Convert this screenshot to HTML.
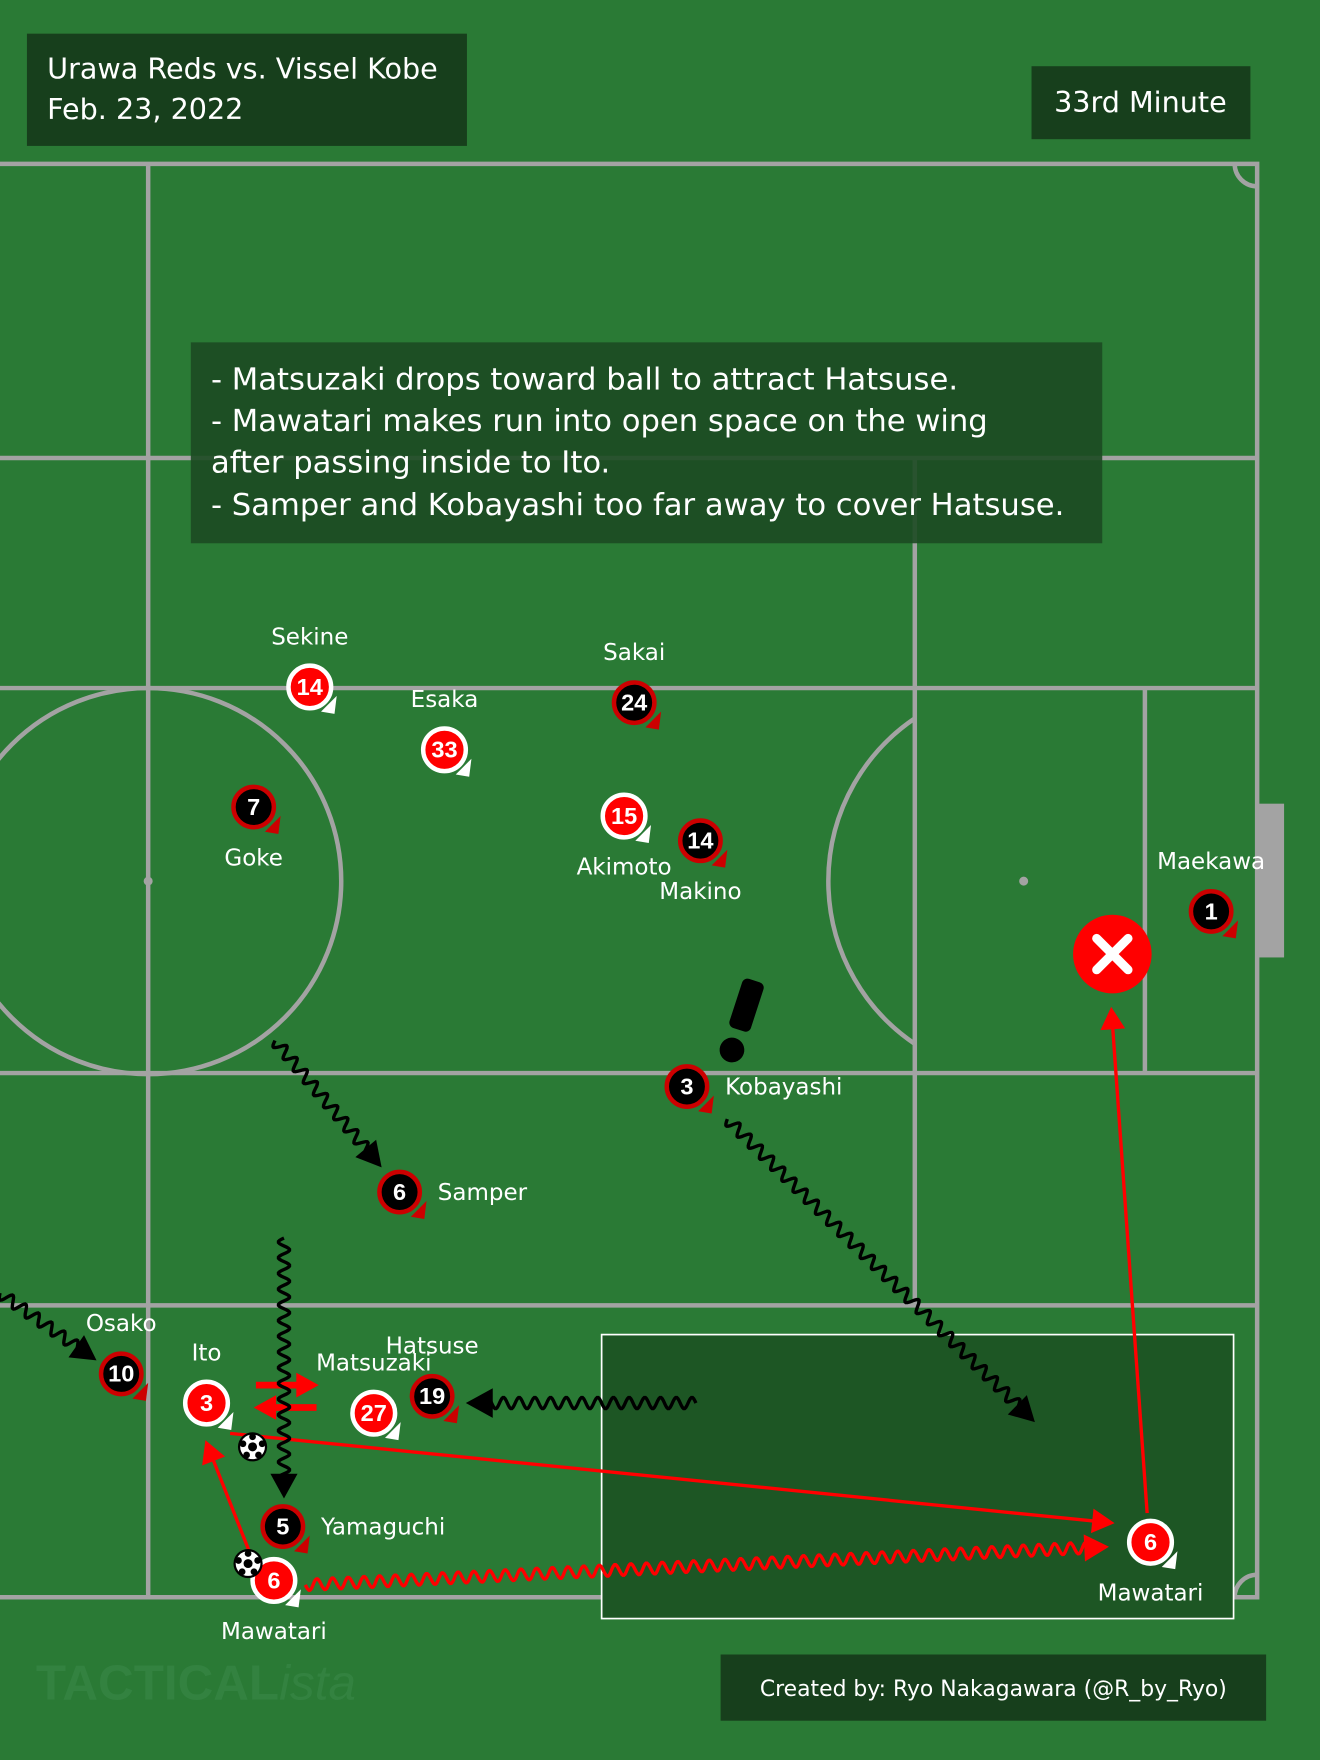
<!DOCTYPE html>
<html><head><meta charset="utf-8"><style>
html,body{margin:0;padding:0;background:#2a7a35;}
svg{display:block;font-family:"DejaVu Sans","Liberation Sans",sans-serif;}
.lbl{fill:#fff;font-size:20.5px;}
.num{fill:#fff;font-family:"Liberation Sans Narrow","Liberation Sans",sans-serif;font-weight:bold;font-size:21px;}
</style></head><body>
<svg id="s" width="1320" height="1760" viewBox="0 0 1176 1568" xmlns="http://www.w3.org/2000/svg">
<rect x="0" y="0" width="1176" height="1568" fill="#2a7a35"/>
<g stroke="#a3a3a3" stroke-width="4" fill="none">
<rect x="-10" y="146" width="1130" height="1277"/>
<line x1="132" y1="146" x2="132" y2="1423"/>
<line x1="0" y1="408" x2="1120" y2="408"/>
<line x1="0" y1="613" x2="1120" y2="613"/>
<line x1="0" y1="956" x2="1120" y2="956"/>
<line x1="0" y1="1163" x2="1120" y2="1163"/>
<line x1="815" y1="408" x2="815" y2="1163"/>
<line x1="1020" y1="613" x2="1020" y2="956"/>
<circle cx="132" cy="785" r="172"/>
<path d="M815 640 A175 175 0 0 0 815 930"/>
<path d="M1100 146 A20 20 0 0 0 1120 166"/>
<path d="M1120 1403 A20 20 0 0 0 1100 1423"/>
</g>
<circle cx="132" cy="785" r="4" fill="#a3a3a3"/>
<circle cx="912" cy="785" r="4" fill="#a3a3a3"/>
<rect x="1120" y="716" width="24" height="137" fill="#a3a3a3"/>
<rect x="24" y="30" width="392" height="100" fill="#173f1c"/>
<text class="lbl" x="42" y="70" style="font-size:25.5px">Urawa Reds vs. Vissel Kobe</text>
<text class="lbl" x="42" y="106" style="font-size:25.5px">Feb. 23, 2022</text>
<rect x="919" y="59" width="195" height="65" fill="#173f1c"/>
<text class="lbl" x="1016" y="100" text-anchor="middle" style="font-size:25.5px">33rd Minute</text>
<rect x="170" y="305" width="812" height="179" fill="#1c4a22" opacity="0.9"/>
<g>
<text class="lbl" x="188" y="347" style="font-size:27.3px">- Matsuzaki drops toward ball to attract Hatsuse.</text>
<text class="lbl" x="188" y="384" style="font-size:27.3px">- Mawatari makes run into open space on the wing</text>
<text class="lbl" x="188" y="421" style="font-size:27.3px">after passing inside to Ito.</text>
<text class="lbl" x="188" y="459" style="font-size:27.3px">- Samper and Kobayashi too far away to cover Hatsuse.</text>
</g>
<rect x="536" y="1189" width="563" height="253" fill="#1d5624" stroke="#fff" stroke-width="1.5"/>
<g id="arrows"></g>
<g id="players"></g>
<g transform="rotate(18 662 905)">
<rect x="652" y="872" width="20" height="46" rx="5" fill="#000"/>
<circle cx="662" cy="937" r="11" fill="#000"/>
</g>
<g>
<circle cx="991" cy="850" r="35" fill="#f00"/>
<path d="M977 836 L1005 864 M1005 836 L977 864" stroke="#fff" stroke-width="8" stroke-linecap="round"/>
</g>
<text x="32" y="1514" style="font-size:44px;font-weight:bold;font-family:'Liberation Sans Narrow','Liberation Sans',sans-serif" fill="#338240">TACTICAL<tspan font-style="italic" font-weight="normal">ista</tspan></text>
<rect x="642" y="1474" width="486" height="59" fill="#173f1c"/>
<text class="lbl" x="885" y="1511" text-anchor="middle" style="font-size:19.5px">Created by: Ryo Nakagawara (@R_by_Ryo)</text>
</svg>
<script>
const NS="http://www.w3.org/2000/svg";
const playerNames=["Sekine","Esaka","Sakai","Goke","Akimoto","Makino","Maekawa","Kobayashi","Samper","Osako","Ito","Matsuzaki","Hatsuse","Yamaguchi","Mawatari","Mawatari"];
const playerNums=["14","33","24","7","15","14","1","3","6","10","3","27","19","5","6","6"];
const playerTeam=["r","r","b","b","r","b","b","b","b","b","r","r","b","b","r","r"];
const playerX=[276,396,565,226,556,624,1079,612,356,108,184,333,385,252,244,1025];
const playerY=[612,668,626,719,727,749,812,968,1062,1224,1250,1259,1244,1360,1408,1374];
const labelPos=["t","t","t","b","b","b","t","r","r","t","t","t","t","r","b","b"];
const pg=document.getElementById('players');
function mk(t,a,p){const e=document.createElementNS(NS,t);for(const k in a)e.setAttribute(k,a[k]);(p||pg).appendChild(e);return e;}
for(let i=0;i<playerNames.length;i++){
  const g=mk('g',{});
  
  
  const x=playerX[i],y=playerY[i],red=playerTeam[i]=="r";
  mk('path',{d:`M${x+10} ${y+22} L${x+24} ${y+8} L${x+22} ${y+24} Z`,fill:red?'#fff':'#c00'},g);
  mk('circle',{cx:x,cy:y,r:red?19:18,fill:red?'#f00':'#000',stroke:red?'#fff':'#c00','stroke-width':4},g);
  const t=mk('text',{x:x,y:y+7,'text-anchor':'middle',class:'num'},g);t.textContent=playerNums[i];
  let lx=x,ly=y,an='middle';
  if(labelPos[i]=='t')ly=y-38;else if(labelPos[i]=='b')ly=y+52;else{lx=x+34;ly=y+7;an='start';}
  const l=mk('text',{x:lx,y:ly,'text-anchor':an,class:'lbl'},g);l.textContent=playerNames[i];
}
[[225,1289],[221,1393]].forEach(b=>{const g=mk('g',{});

mk('circle',{cx:b[0],cy:b[1],r:13,fill:'#000'},g);mk('circle',{cx:b[0],cy:b[1],r:11,fill:'#fff'},g);
mk('circle',{cx:b[0],cy:b[1],r:4,fill:'#000'},g);
for(let k=0;k<5;k++){const a=k*72*Math.PI/180-Math.PI/2;mk('circle',{cx:b[0]+9*Math.cos(a),cy:b[1]+9*Math.sin(a),r:3,fill:'#000'},g);}});
const ag=document.getElementById('arrows');
function head(x1,y1,x2,y2,c,s,g){const a=Math.atan2(y2-y1,x2-x1);const p=[[x2,y2],[x2-s*Math.cos(a)+s*.55*Math.sin(a),y2-s*Math.sin(a)-s*.55*Math.cos(a)],[x2-s*Math.cos(a)-s*.55*Math.sin(a),y2-s*Math.sin(a)+s*.55*Math.cos(a)]];mk('polygon',{points:p.map(q=>q.join(',')).join(' '),fill:c},g);}
function straight(name,x1,y1,x2,y2,c,w,s){const g=mk('g',{},ag);
const a=Math.atan2(y2-y1,x2-x1);mk('line',{x1,y1,x2:x2-s*.8*Math.cos(a),y2:y2-s*.8*Math.sin(a),stroke:c,'stroke-width':w},g);head(x1,y1,x2,y2,c,s,g);}
function wavy(name,x1,y1,x2,y2,c,s){const g=mk('g',{},ag);
const L=Math.hypot(x2-x1,y2-y1),a=Math.atan2(y2-y1,x2-x1),ux=Math.cos(a),uy=Math.sin(a);const end=L-s*.9;let d='';
for(let t=0;t<=end;t+=1){const o=5*Math.sin(t*2*Math.PI/14);const px=x1+ux*t-uy*o,py=y1+uy*t+ux*o;d+=(t?'L':'M')+px.toFixed(1)+' '+py.toFixed(1);}
mk('path',{d,fill:'none',stroke:c,'stroke-width':3},g);head(x1,y1,x2,y2,c,s,g);}
straight('pass-to-mawatari',205,1277,993,1357,'#f00',3,20);
straight('pass-to-ito',222,1382,183,1283,'#f00',3,20);
straight('shot',1022,1348,990,897,'#f00',3,20);
wavy('mawatari-run',272,1412,988,1378,'#f00',22);
straight('matsuzaki-drop-right',228,1234,284,1234,'#f00',6,20);
straight('matsuzaki-drop-left',282,1254,226,1254,'#f00',6,20);
wavy('samper-move',245,927,340,1040,'#000',22);
wavy('kobayashi-move',648,997,922,1267,'#000',22);
wavy('yamaguchi-move',253,1103,253,1335,'#000',22);
wavy('hatsuse-move',620,1250,415,1250,'#000',24);
wavy('osako-move',0,1152,86,1212,'#000',22);
</script>
</body></html>
